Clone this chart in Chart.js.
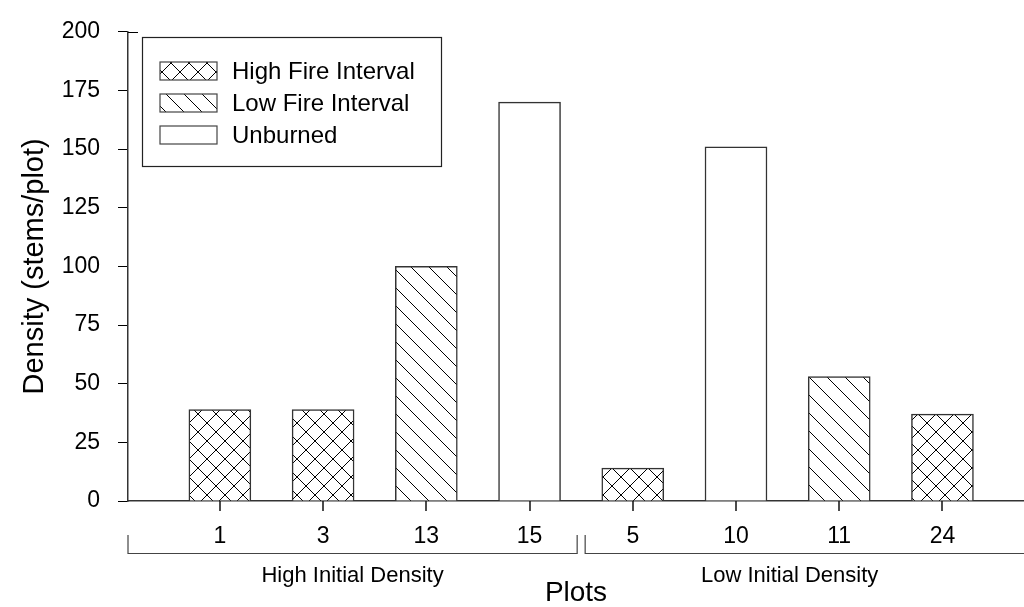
<!DOCTYPE html>
<html>
<head>
<meta charset="utf-8">
<script src="https://cdn.jsdelivr.net/npm/chart.js@4"></script>
<style>
  html, body { margin: 0; padding: 0; background: #fff; }
  #wrap { width: 1024px; height: 607px; position: relative; }
</style>
</head>
<body>
<div id="wrap"><canvas id="chart"></canvas></div>
<script>
const plotLabels = ['1', '3', '13', '15', '5', '10', '11', '24']
const plotPos = [1, 2, 3, 4, 5, 6, 7, 8]
const highFire = [39, 39, null, null, 14, null, null, 37]
const lowFire = [null, null, 100, null, null, null, 53, null]
const unburned = [null, null, null, 170, null, 151, null, null]
const seriesNames = ['High Fire Interval', 'Low Fire Interval', 'Unburned']
const yTicks = [0, 25, 50, 75, 100, 125, 150, 175, 200]
const groups = [
  { name: 'High Initial Density', from: 1, to: 4 },
  { name: 'Low Initial Density', from: 5, to: 8 }
]

const FONT = "'Liberation Sans', Arial, Helvetica, sans-serif"
Chart.defaults.font.family = FONT
Chart.defaults.color = '#000'

// hatch fills: cross = diamonds, otherwise "\" lines
function hatch (cross) {
  const s = 18
  const c = document.createElement('canvas')
  c.width = s
  c.height = s
  const g = c.getContext('2d')
  g.fillStyle = '#fff'
  g.fillRect(0, 0, s, s)
  g.strokeStyle = '#000'
  g.lineWidth = 1
  g.beginPath()
  for (const k of [-s, 0, s]) {
    g.moveTo(k, 0)
    g.lineTo(k + s, s)
    if (cross) {
      g.moveTo(k + s, 0)
      g.lineTo(k, s)
    }
  }
  g.stroke()
  return g.createPattern(c, 'repeat')
}

const toPoints = arr => plotPos
  .map((x, i) => (arr[i] == null ? null : { x, y: arr[i] }))
  .filter(Boolean)

const fills = [hatch(true), hatch(false), '#fff']

const decor = {
  id: 'decor',
  afterDraw (chart) {
    const { ctx, scales: { x, y } } = chart
    ctx.save()

    // x tick marks under each plot
    ctx.strokeStyle = '#111'
    ctx.lineWidth = 1.5
    ctx.beginPath()
    x.ticks.forEach(t => {
      const px = Math.round(x.getPixelForValue(t.value))
      ctx.moveTo(px, x.top)
      ctx.lineTo(px, x.top + 10)
    })
    ctx.stroke()

    // top tick of y axis crosses the axis
    const yTop = Math.round(y.getPixelForValue(200)) + 0.5
    ctx.strokeStyle = '#000'
    ctx.lineWidth = 1
    ctx.beginPath()
    ctx.moveTo(x.left, yTop)
    ctx.lineTo(x.left + 10, yTop)
    ctx.stroke()

    // group brackets under the tick labels
    const lineY = 553.5
    const upY = 535
    const mid = x.getPixelForValue(4.5)
    ctx.strokeStyle = '#444'
    ctx.lineWidth = 1.2
    ctx.font = '22px ' + FONT
    ctx.fillStyle = '#000'
    ctx.textAlign = 'center'
    ctx.textBaseline = 'middle'
    groups.forEach((gr, i) => {
      const x0 = i === 0 ? x.left : mid + 4
      const x1 = i === 0 ? mid - 4 : chart.width + 10
      ctx.beginPath()
      ctx.moveTo(x0, upY)
      ctx.lineTo(x0, lineY)
      ctx.lineTo(x1, lineY)
      if (i === 0) ctx.lineTo(x1, upY)
      ctx.stroke()
      const tEnd = i === 0 ? x1 : x.getPixelForValue(gr.to + 0.5)
      ctx.fillText(gr.name, (x0 + tEnd) / 2, 576)
    })

    // legend box
    ctx.strokeStyle = '#222'
    ctx.lineWidth = 1.2
    ctx.strokeRect(142.5, 37.5, 299, 129)
    ctx.font = '24px ' + FONT
    ctx.textAlign = 'left'
    chart.data.datasets.forEach((ds, i) => {
      const cy = 71 + i * 32
      ctx.fillStyle = ds.backgroundColor
      ctx.fillRect(160, cy - 9, 57, 18)
      ctx.strokeStyle = '#444'
      ctx.lineWidth = 1.2
      ctx.strokeRect(160, cy - 9, 57, 18)
      ctx.fillStyle = '#000'
      ctx.fillText(ds.label, 232, cy + 1)
    })
    ctx.restore()
  }
}

const ctx = document.getElementById('chart').getContext('2d')

const chart = new Chart(ctx, {
  type: 'bar',
  data: {
    datasets: [highFire, lowFire, unburned].map((arr, i) => ({
      label: seriesNames[i],
      data: toPoints(arr),
      backgroundColor: fills[i],
      borderColor: '#333',
      borderWidth: 1.5,
      barThickness: 62,
      grouped: false
    }))
  },
  options: {
    responsive: true,
    maintainAspectRatio: false,
    animation: false,
    layout: { padding: { top: 24, left: 0, right: 0, bottom: 0 } },
    plugins: {
      legend: { display: false },
      tooltip: { enabled: false }
    },
    scales: {
      x: {
        type: 'linear',
        min: 0.11,
        max: 8.79,
        offset: false,
        afterBuildTicks: s => { s.ticks = plotPos.map(v => ({ value: v })) },
        afterFit: s => { s.height = 106 },
        ticks: {
          callback: v => plotLabels[plotPos.indexOf(v)],
          font: { size: 23 },
          color: '#000',
          padding: 12,
          autoSkip: false,
          maxRotation: 0
        },
        grid: { display: false, tickLength: 10 },
        border: { display: true, color: '#333', width: 1.5 },
        title: {
          display: true,
          text: 'Plots',
          font: { size: 28 },
          color: '#000',
          padding: { top: 0, bottom: -3 }
        }
      },
      y: {
        min: 0,
        max: 200,
        afterBuildTicks: s => { s.ticks = yTicks.map(v => ({ value: v })) },
        afterFit: s => { s.width = 128 },
        ticks: { font: { size: 23 }, color: '#000', padding: 18 },
        grid: { drawOnChartArea: false, tickLength: 10, color: '#000' },
        border: { color: '#333', width: 1.5 },
        title: {
          display: true,
          text: 'Density (stems/plot)',
          font: { size: 29 },
          color: '#000',
          padding: { top: 18, bottom: 0 }
        }
      }
    }
  },
  plugins: [decor]
})
</script>
</body>
</html>
